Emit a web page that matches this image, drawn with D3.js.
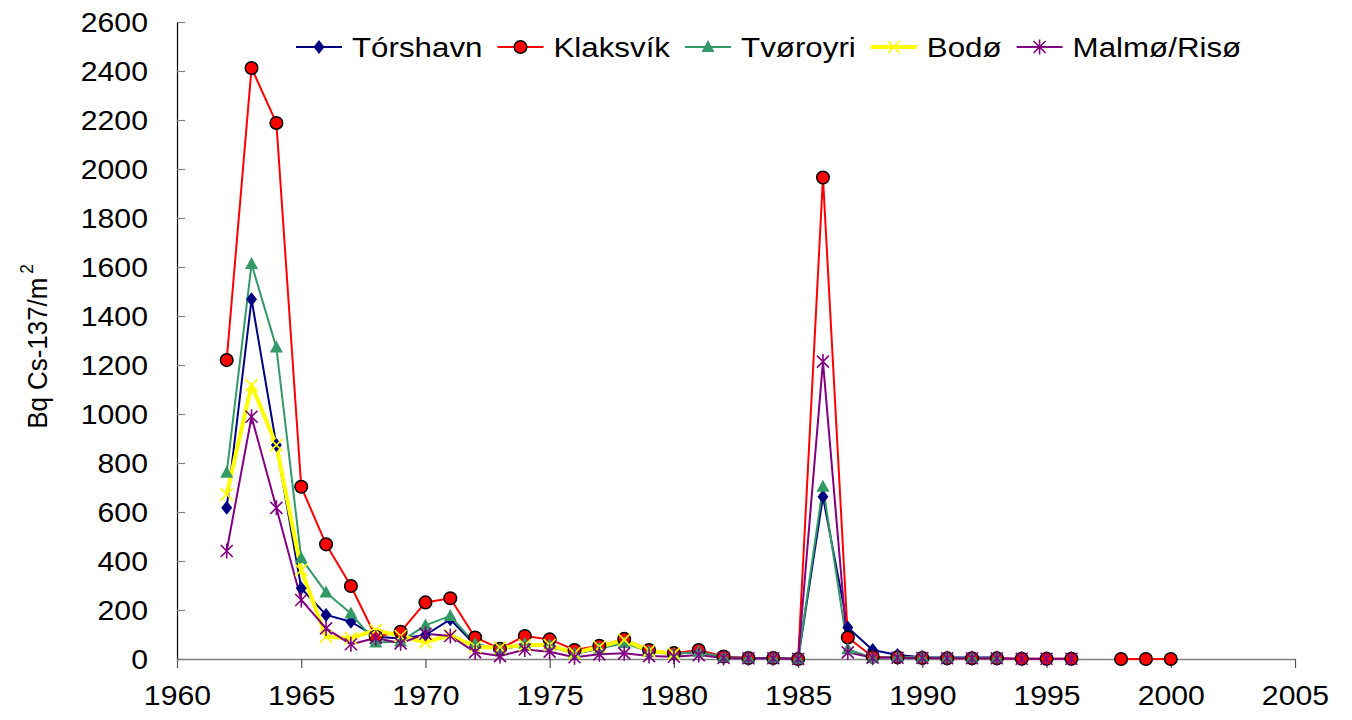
<!DOCTYPE html>
<html>
<head>
<meta charset="utf-8">
<script src="https://cdn.jsdelivr.net/npm/d3@7"></script>
<style>
  body { margin: 0; background: #fff; }
  text { font-family: "Liberation Sans", Arial, sans-serif; }
</style>
</head>
<body>
<svg id="chart" width="1352" height="720"></svg>
<script>
// Data (Bq Cs-137/m2 per year)
const years = [1962, 1963, 1964, 1965, 1966, 1967, 1968, 1969, 1970, 1971,
  1972, 1973, 1974, 1975, 1976, 1977, 1978, 1979, 1980, 1981,
  1982, 1983, 1984, 1985, 1986, 1987, 1988, 1989, 1990, 1991,
  1992, 1993, 1994, 1995, 1996, 1997, 1998, 1999, 2000];

const torshavn = [617, 1468, 873, 289, 180, 152, 91, 84, 98, 162,
  57, 39, 57, 53, 20, 43, 70, 30, 20, 30,
  7, 4, 4, 0, 662, 129, 37, 16, 7, 6,
  6, 6, null, null, null, null, null, null, null];

const klaksvik = [1220, 2412, 2188, 703, 468, 298, 91, 111, 231, 248,
  88, 42, 94, 80, 37, 54, 82, 37, 24, 37,
  10, 4, 4, 0, 1965, 88, 9, 7, 4, 3,
  3, 3, 1, 1, 1, null, 0, 0, 0];

const tvoroyri = [760, 1612, 1271, 411, 271, 186, 67, 71, 137, 176,
  62, 40, 62, 56, 22, 43, 65, 30, 20, 30,
  7, 4, 4, 0, 703, 40, 4, 9, 7, 5,
  5, 5, null, null, null, null, null, null, null];

const bodo = [672, 1118, 873, 363, 91, 85, 118, 94, 68, 98,
  50, 46, 57, 57, 24, 50, 78, 33, 22, null,
  null, null, null, null, null, null, null, null, null, null,
  null, null, null, null, null, null, null, null, null];

const malmo = [441, 989, 617, 241, 125, 60, 86, 64, 103, 94,
  28, 12, 39, 30, 7, 19, 23, 12, 9, 16,
  4, 3, 3, 0, 1214, 27, 5, 5, 4, 3,
  3, 3, 1, 1, 1, null, null, null, null];

const seriesNames = ["Tórshavn", "Klaksvík", "Tvøroyri", "Bodø", "Malmø/Risø"];
const xTicks = [1960, 1965, 1970, 1975, 1980, 1985, 1990, 1995, 2000, 2005];
const yTicks = [0, 200, 400, 600, 800, 1000, 1200, 1400, 1600, 1800, 2000, 2200, 2400, 2600];

// styles per series
const styles = [
  { color: "#000080", width: 2, marker: "diamond" },
  { color: "#ff0000", width: 2, marker: "circle" },
  { color: "#339966", width: 2, marker: "triangle" },
  { color: "#ffff00", width: 4, marker: "x" },
  { color: "#800080", width: 2, marker: "star" }
];

const series = [torshavn, klaksvik, tvoroyri, bodo, malmo].map((vals, i) => ({
  name: seriesNames[i],
  style: styles[i],
  values: years.map((year, j) => ({ year, val: vals[j] }))
}));

const width = 1352, height = 720;
const margin = { top: 22, right: 57, bottom: 61, left: 177 };
const stretch = 1.12;
const legendStretch = 1.16;

const svg = d3.select("#chart");
svg.append("rect").attr("width", width).attr("height", height).attr("fill", "#fff");

const x = d3.scaleLinear().domain([1960, 2005]).range([margin.left, width - margin.right]);
const y = d3.scaleLinear().domain([0, 2600]).range([height - margin.bottom, margin.top]);

// marker shapes
function markerPath(type) {
  switch (type) {
    case "diamond": return "M0,-7L5.5,0L0,7L-5.5,0Z";
    case "triangle": return "M0,-7L6.5,5L-6.5,5Z";
    case "x": return "M-6,-6L6,6M6,-6L-6,6";
    case "star": return "M-6,-6L6,6M6,-6L-6,6M0,-7.5V7.5";
    default: return null;
  }
}

function drawMarker(g, style) {
  if (style.marker === "circle") {
    g.append("circle").attr("r", 6.3)
      .attr("fill", style.color).attr("stroke", "#000").attr("stroke-width", 1.5);
  } else if (style.marker === "x" || style.marker === "star") {
    g.append("path").attr("d", markerPath(style.marker))
      .attr("fill", "none").attr("stroke", style.color).attr("stroke-width", 1.6);
  } else {
    g.append("path").attr("d", markerPath(style.marker)).attr("fill", style.color);
  }
}

// x axis
const xAxis = svg.append("g")
  .attr("transform", `translate(0,${y(0)})`)
  .call(d3.axisBottom(x).tickValues(xTicks).tickFormat(d3.format("d")).tickSize(9).tickSizeOuter(0));
xAxis.select(".domain").attr("stroke", "#808080").attr("stroke-width", 1.5);
xAxis.selectAll(".tick line").attr("stroke", "#555").attr("stroke-width", 1.2);
xAxis.selectAll(".tick text")
  .attr("y", 0).attr("dy", 0)
  .attr("transform", `translate(0,46) scale(${stretch},1)`)
  .attr("font-size", 27).attr("fill", "#000");

// y axis
const yAxis = svg.append("g")
  .attr("transform", `translate(${margin.left},0)`)
  .call(d3.axisLeft(y).tickValues(yTicks).tickFormat(d3.format("d")).tickSizeInner(-8).tickSizeOuter(0));
yAxis.select(".domain").attr("stroke", "#000").attr("stroke-width", 1.2);
yAxis.selectAll(".tick line").attr("stroke", "#808080").attr("stroke-width", 1.2);
yAxis.selectAll(".tick text")
  .attr("x", 0).attr("dy", "0.35em")
  .attr("transform", `translate(-29,0) scale(${stretch},1)`)
  .attr("font-size", 27).attr("fill", "#000");
svg.selectAll(".tick text").attr("font-family", '"Liberation Sans", Arial, sans-serif');

// y axis title
const ytitle = svg.append("text")
  .attr("transform", `translate(47,${(margin.top + height - margin.bottom) / 2 + 6}) rotate(-90) scale(0.96,1)`)
  .attr("text-anchor", "middle")
  .attr("font-size", 27);
ytitle.append("tspan").text("Bq Cs-137/m");
ytitle.append("tspan").attr("dy", -14).attr("dx", 4).attr("font-size", 18).text("2");

// lines
const line = d3.line()
  .defined((d) => d.val !== null)
  .x((d) => x(d.year))
  .y((d) => y(d.val));

series.forEach((s) => {
  svg.append("path")
    .datum(s.values)
    .attr("fill", "none")
    .attr("stroke", s.style.color)
    .attr("stroke-width", s.style.width)
    .attr("stroke-linejoin", "round")
    .attr("d", line);
});

// markers (drawn per series so later series sit on top)
series.forEach((s) => {
  svg.append("g").selectAll("g")
    .data(s.values.filter((d) => d.val !== null))
    .join("g")
    .attr("transform", (d) => `translate(${x(d.year)},${y(d.val)})`)
    .each(function () { drawMarker(d3.select(this), s.style); });
});

// legend
const legend = svg.append("g").attr("transform", "translate(296,47)");
let lx = 0;
series.forEach((s) => {
  const item = legend.append("g").attr("transform", `translate(${lx},0)`);
  item.append("line").attr("x1", 0).attr("x2", 46)
    .attr("stroke", s.style.color).attr("stroke-width", s.style.width);
  drawMarker(item.append("g").attr("transform", "translate(23,0)"), s.style);
  const t = item.append("text")
    .attr("x", 0).attr("y", 0).attr("dy", "0.36em")
    .attr("transform", `translate(56,0) scale(${legendStretch},1)`)
    .attr("font-size", 27)
    .text(s.name);
  lx += 56 + t.node().getComputedTextLength() * legendStretch + 15;
});
</script>
</body>
</html>
